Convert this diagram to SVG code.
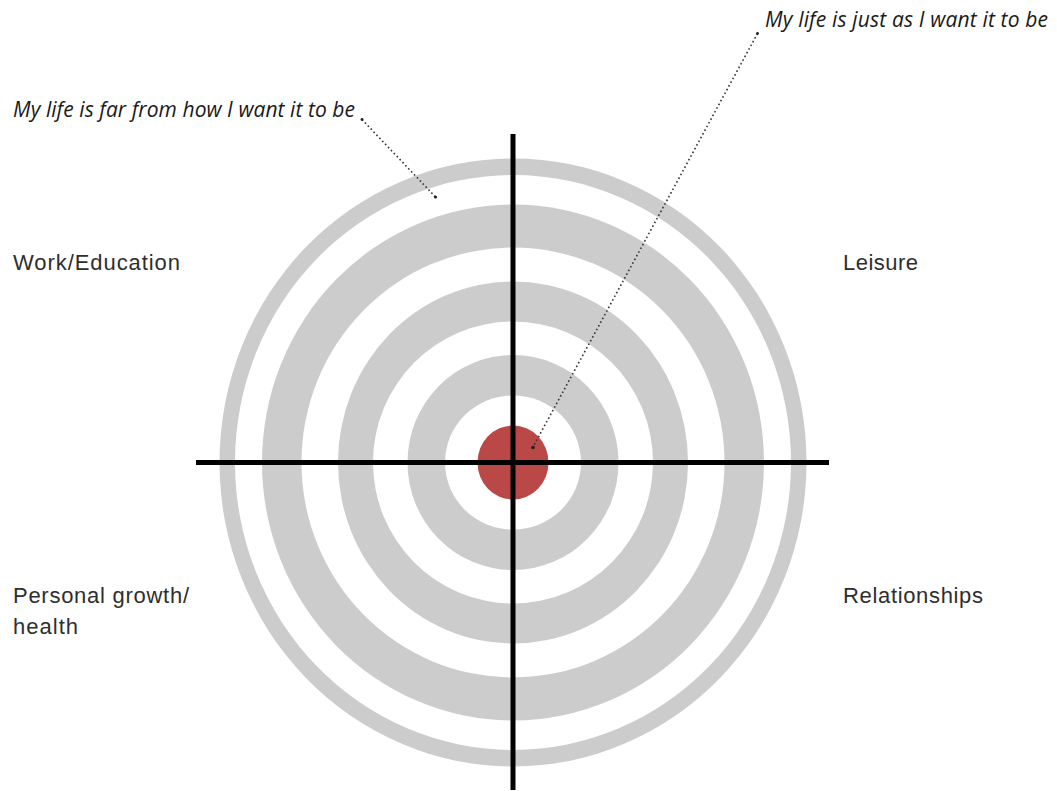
<svg xmlns="http://www.w3.org/2000/svg" width="1057" height="791" viewBox="0 0 1057 791">
  <style>
    .band { fill: #cccccc; }
    .gap { fill: #ffffff; }
    .axis { stroke: #000000; stroke-width: 5; stroke-linecap: butt; }
    .leader { stroke: #333333; stroke-width: 1.6; stroke-dasharray: 1.6 2.6; fill: none; }
    .dot { fill: #222222; }
    .area { font-family: "Liberation Sans", Arial, sans-serif; font-size: 22px; fill: #2e2e2e; }
    .note { font-family: "Open Sans", "Noto Sans", sans-serif; font-style: italic; font-weight: 400; font-size: 21px; fill: #1a1a1a; }
  </style>
  <rect width="1057" height="791" fill="#ffffff"/>

  <!-- target rings, outermost first -->
  <g id="target">
    <ellipse class="band" cx="513" cy="462.5" rx="293.5" ry="304"/>
    <ellipse class="gap" cx="513" cy="462.5" rx="278" ry="287.5"/>
    <ellipse class="band" cx="513" cy="462.5" rx="251" ry="258"/>
    <ellipse class="gap" cx="513" cy="462.5" rx="211.5" ry="215"/>
    <ellipse class="band" cx="513" cy="462.5" rx="175" ry="181"/>
    <ellipse class="gap" cx="513" cy="462.5" rx="140" ry="141"/>
    <ellipse class="band" cx="513" cy="462.5" rx="105.5" ry="107.5"/>
    <ellipse class="gap" cx="513" cy="462.5" rx="68" ry="67"/>
  </g>
  <g id="bullseye">
    <ellipse cx="513" cy="462.5" rx="35.5" ry="37" fill="#b94846"/>
  </g>

  <!-- quadrant axes -->
  <g id="axes">
    <line class="axis" x1="513" y1="134" x2="513" y2="790"/>
    <line class="axis" x1="196" y1="462.5" x2="829" y2="462.5"/>
  </g>

  <!-- dotted leaders -->
  <g id="connectors">
    <line class="leader" x1="362" y1="119.5" x2="435" y2="196.5"/>
    <circle class="dot" cx="362" cy="119.5" r="1.4"/>
    <circle class="dot" cx="435.5" cy="197" r="1.6"/>
    <line class="leader" x1="757.5" y1="33.5" x2="533" y2="447"/>
    <circle class="dot" cx="757.5" cy="33.5" r="1.4"/>
    <circle class="dot" cx="533" cy="447.5" r="1.8"/>
  </g>

  <g id="note-far">
    <text class="note" x="13" y="117" textLength="342" lengthAdjust="spacing">My life is far from how I want it to be</text>
  </g>
  <g id="note-just">
    <text class="note" x="765" y="27" textLength="283" lengthAdjust="spacing">My life is just as I want it to be</text>
  </g>

  <g id="work-education">
    <text class="area" x="13" y="270" textLength="167" lengthAdjust="spacing">Work/Education</text>
  </g>
  <g id="leisure">
    <text class="area" x="843" y="270" textLength="75" lengthAdjust="spacing">Leisure</text>
  </g>
  <g id="personal-growth">
    <text class="area" x="13" y="603" textLength="176" lengthAdjust="spacing">Personal growth/</text>
    <text class="area" x="13" y="634" textLength="65" lengthAdjust="spacing">health</text>
  </g>
  <g id="relationships">
    <text class="area" x="843" y="603" textLength="140" lengthAdjust="spacing">Relationships</text>
  </g>
</svg>
